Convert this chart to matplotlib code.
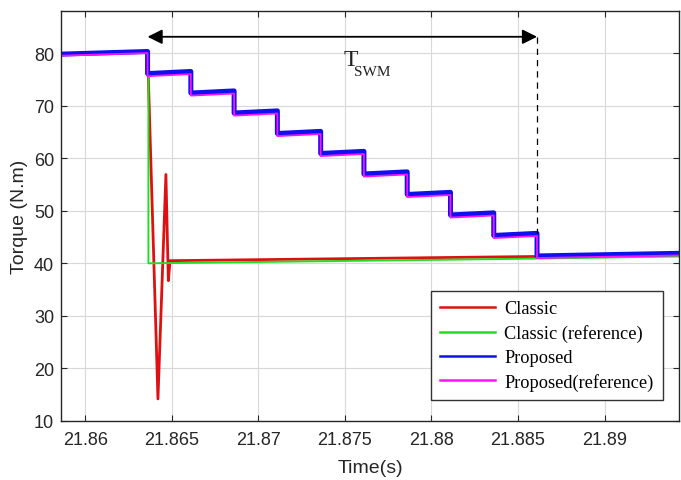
import matplotlib
matplotlib.use("Agg")
import matplotlib.pyplot as plt

# --- data ---

# Proposed: step times and (start, end) level of each plateau
prop_t = [21.8586, 21.8636, 21.8636, 21.8661, 21.8661, 21.8686, 21.8686, 21.8711, 21.8711,
          21.8736, 21.8736, 21.8761, 21.8761, 21.8786, 21.8786, 21.8811, 21.8811,
          21.8836, 21.8836, 21.8861, 21.8861, 21.8943]
prop_y = [79.8, 80.3, 76.1, 76.5, 72.4, 72.8, 68.6, 69.0, 64.7, 65.1,
          60.9, 61.3, 57.0, 57.4, 53.1, 53.5, 49.2, 49.6,
          45.3, 45.7, 41.4, 41.9]
prop_ref_y = [79.5, 80.0, 75.6, 76.0, 71.9, 72.3, 68.1, 68.5, 64.2, 64.6,
              60.4, 60.8, 56.5, 56.9, 52.6, 53.0, 48.7, 49.1,
              44.8, 45.2, 41.0, 41.5]

# Classic: sudden drop with an oscillation, then flat
classic_t = [21.8586, 21.8636, 21.8642, 21.86466, 21.8648, 21.8649, 21.8861, 21.8943]
classic_y = [79.8, 80.3, 14.2, 56.9, 36.7, 40.5, 41.3, 41.7]

classic_ref_t = [21.8586, 21.86365, 21.86365, 21.8861, 21.8943]
classic_ref_y = [79.8, 80.2, 40.0, 40.9, 41.3]

# T_SWM arrow
t_start, t_end = 21.8636, 21.8861
arrow_y = 83.1

xticks = [21.86, 21.865, 21.87, 21.875, 21.88, 21.885, 21.89]
xtick_labels = ["21.86", "21.865", "21.87", "21.875", "21.88", "21.885", "21.89"]
yticks = [10, 20, 30, 40, 50, 60, 70, 80]

# --- plot ---

sans = ["Liberation Sans", "DejaVu Sans"]
serif = ["Liberation Serif", "DejaVu Serif"]

fig = plt.figure(figsize=(6.81, 4.81), dpi=100)
ax = fig.add_axes([0.0896, 0.1227, 0.9074, 0.8523])

ax.plot(classic_t, classic_y, color="#dd1111", linewidth=2.0, label="Classic")
ax.plot(classic_ref_t, classic_ref_y, color="#22dd22", linewidth=1.4, label="Classic (reference)")
ax.plot(prop_t, prop_y, color="#1010ee", linewidth=3.6, label="Proposed")
ax.plot(prop_t, prop_ref_y, color="#ff10ff", linewidth=1.3, label="Proposed(reference)")

# double arrow and dashed marker
ax.annotate("", xy=(t_end, arrow_y), xytext=(t_start, arrow_y),
            arrowprops=dict(arrowstyle="<|-|>", color="black", lw=1.3,
                            mutation_scale=22, shrinkA=0, shrinkB=0))
ax.plot([t_end, t_end], [arrow_y, 45.7], color="black", linestyle=(0, (5, 4)), linewidth=0.9)
ax.text(21.8749, 77.8, "T", fontsize=17, family=serif, va="baseline", color="#222222")
ax.text(21.87552, 75.9, "SWM", fontsize=11, family=serif, va="baseline", color="#222222")

ax.set_xlim(21.8586, 21.8943)
ax.set_ylim(10, 88)
ax.set_xticks(xticks)
ax.set_xticklabels(xtick_labels)
ax.set_yticks(yticks)

ax.grid(True, color="#d8d8d8", linewidth=0.8)
ax.set_axisbelow(True)
ax.tick_params(direction="in", top=True, right=True, length=4, width=0.8,
               labelsize=13, colors="#262626", pad=5)
ax.tick_params(axis="x", pad=7)
for lbl in ax.get_xticklabels() + ax.get_yticklabels():
    lbl.set_family(sans)
for s in ax.spines.values():
    s.set_color("#262626")
    s.set_linewidth(1.0)

ax.set_xlabel("Time(s)", fontsize=14, family=sans, color="#262626", labelpad=8)
ax.set_ylabel("Torque (N.m)", fontsize=14, family=sans, color="#262626", labelpad=4)

leg = ax.legend(loc="lower right", bbox_to_anchor=(0.974, 0.051), borderaxespad=0,
                prop={"family": serif, "size": 13.2},
                frameon=True, fancybox=False, edgecolor="#333333", framealpha=1,
                handlelength=3.0, labelspacing=0.38, borderpad=0.5, handletextpad=0.5)
leg.get_frame().set_linewidth(1.0)
for line in leg.get_lines():
    line.set_linewidth(1.8)

fig.savefig("out.png", dpi=100)
